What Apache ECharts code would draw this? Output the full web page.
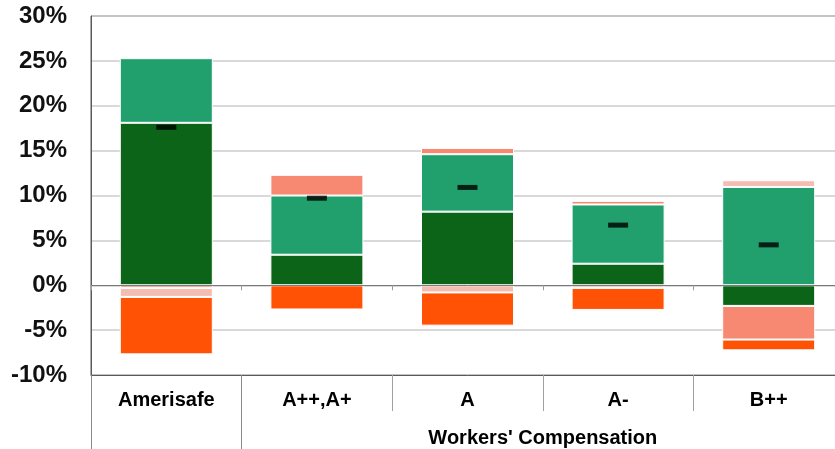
<!DOCTYPE html>
<html>
<head>
<meta charset="utf-8">
<script src="https://cdn.jsdelivr.net/npm/echarts@6/dist/echarts.min.js"></script>
<style>
html,body{margin:0;padding:0;background:#fff;overflow:hidden;width:835px;height:449px;}
#chart{width:844px;height:449px;}
</style>
</head>
<body>
<div id="chart"></div>
<script>
const categories = ['Amerisafe', 'A++,A+', 'A', 'A-', 'B++'];
const groupLabel = "Workers' Compensation";
const darkGreen = [18.1, 3.4, 8.2, 2.4, -2.3];
const teal      = [7.2, 6.6, 6.4, 6.6, 10.95];
const salmon    = [-0.3, 2.3, 0.7, 0.4, -3.75];
const pink      = [-1.0, null, -0.8, -0.3, 0.75];
const orange    = [-6.4, -2.7, -3.7, -2.45, -1.2];
const markers   = [17.6, 9.7, 10.9, 6.7, 4.5];
const yTicks = { min: -10, max: 30, interval: 5 };

const chart = echarts.init(document.getElementById('chart'), null, { renderer: 'canvas' });

function barSeries(name, data, color) {
  return {
    name: name, type: 'bar', stack: 'total', data: data, xAxisIndex: 0,
    barWidth: 93,
    itemStyle: { color: color, borderColor: '#ffffff', borderWidth: 1 },
    emphasis: { disabled: true }
  };
}

const option = {
  animation: false,
  backgroundColor: '#ffffff',
  grid: { left: 91, top: 16, right: 0, height: 359, show: true, borderColor: '#5a5a5a', borderWidth: 1, backgroundColor: 'transparent' },
  xAxis: [
    {
      type: 'category', data: categories, position: 'top', z: 5,
      axisLine: { onZero: true, lineStyle: { color: '#7a7a7a', width: 1 } },
      axisTick: { show: true, inside: true, length: 5, lineStyle: { color: '#9a9a9a' } },
      axisLabel: { show: false }, splitLine: { show: false }
    },
    {
      type: 'category', data: categories, position: 'bottom',
      axisLine: { onZero: false, show: true, lineStyle: { color: '#5a5a5a' } },
      axisTick: { show: true, length: 36, lineStyle: { color: '#a0a0a0' } },
      axisLabel: { show: true, margin: 15, fontFamily: 'Liberation Sans, Arial, sans-serif', fontWeight: 'bold', fontSize: 20, color: '#000' },
      splitLine: { show: false }
    },
    {
      type: 'value', min: 0, max: categories.length, position: 'bottom',
      axisLine: { onZero: false, show: false },
      axisTick: { show: true, length: 74, customValues: [0, 1], lineStyle: { color: '#8a8a8a' } },
      axisLabel: { show: true, customValues: [3], margin: 53, formatter: function () { return groupLabel; },
        fontFamily: 'Liberation Sans, Arial, sans-serif', fontWeight: 'bold', fontSize: 20, color: '#000' },
      splitLine: { show: false }
    }
  ],
  yAxis: {
    type: 'value', min: yTicks.min, max: yTicks.max, interval: yTicks.interval,
    axisLine: { show: true, onZero: false, lineStyle: { color: '#5a5a5a' } },
    axisTick: { show: false },
    axisLabel: { formatter: '{value}%', margin: 24, fontFamily: 'Liberation Sans, Arial, sans-serif', fontWeight: 'bold', fontSize: 24, color: '#111' },
    splitLine: { show: true, lineStyle: { color: '#cccccc', width: 1.5 } }
  },
  series: [
    barSeries('darkGreen', darkGreen, '#0b6417'),
    barSeries('teal', teal, '#21a06e'),
    barSeries('salmon', salmon, '#f78872'),
    barSeries('pink', pink, '#f5bdb2'),
    barSeries('orange', orange, '#ff5205'),
    {
      name: 'marker', type: 'scatter', data: markers, xAxisIndex: 0, z: 10,
      symbol: 'rect', symbolSize: [20, 5],
      itemStyle: { color: '#000000' }, emphasis: { disabled: true }
    }
  ]
};
chart.setOption(option);
</script>
</body>
</html>
